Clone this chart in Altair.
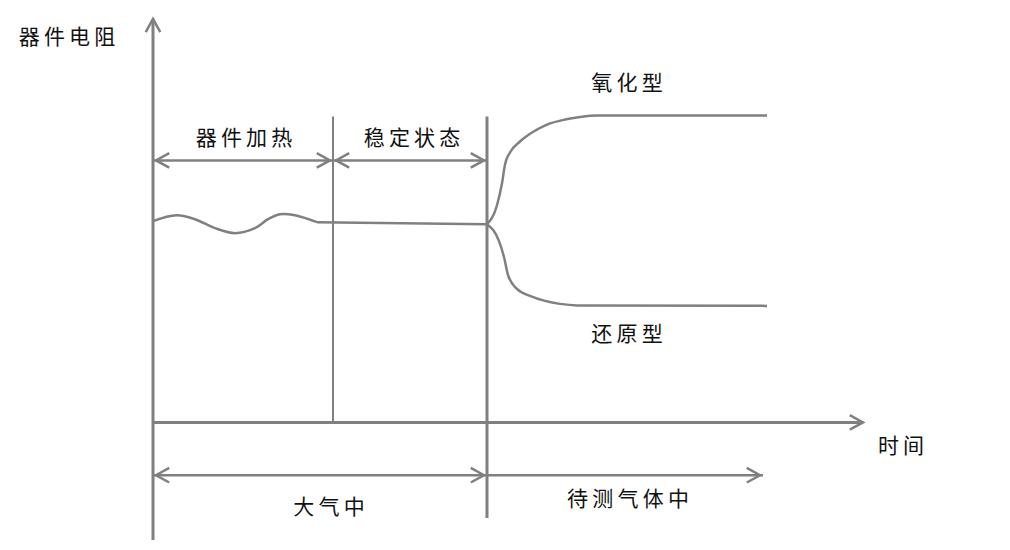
import altair as alt
import pandas as pd

GRAY = "#808080"
FONT = "Noto Sans CJK SC"
SP = "\u2009"

# ---- data (time t, resistance R; origin where the two axes cross) ----
# resistance curve in air: heating (wavy) and steady state
wave_t = [0, 1.2, 2.4, 4.2, 6.2, 8.2, 10.2, 11.5, 12.7, 14.2, 16.4]
wave_R = [20.2, 20.6, 20.8, 20.4, 19.5, 19.0, 19.5, 20.4, 20.9, 20.8, 20.1]
steady_t = [16.4, 33.4]
steady_R = [20.1, 19.9]
# response in the test gas
ox_t = [33.4, 34.4, 34.9, 35.2, 35.7, 36.7, 37.9, 39.4, 41.2, 42.7, 44.4, 61.4]
ox_R = [19.9, 21.8, 24.0, 25.9, 27.1, 28.2, 29.1, 29.9, 30.4, 30.65, 30.8, 30.8]
red_t = [33.4, 34.6, 35.1, 35.5, 36.4, 37.7, 39.2, 40.7, 42.4, 61.4]
red_R = [19.9, 18.2, 16.6, 14.8, 13.4, 12.7, 12.2, 11.9, 11.75, 11.7]

# axes (with arrow tips)
yaxis_R = [-11.8, 40.5]
xaxis_t = [0, 71.0]

# phase dividers: time, bottom R, top R, stroke
div_t = [18.0, 33.4]
div_R1 = [0.0, -9.6]
div_R2 = [30.7, 30.7]
div_w = [2.0, 3.0]

# interval arrows: start, end, level, left head, right head
span_t1 = [0.0, 18.0, 0.0, 33.4]
span_t2 = [18.0, 33.4, 33.4, 61.0]
span_R = [26.3, 26.3, -5.3, -5.3]
span_lh = [True, True, True, False]
span_rh = [True, True, True, True]

# labels
lab_text = ["器件电阻", "器件加热", "稳定状态", "氧化型", "还原型", "时间", "大气中", "待测气体中"]
lab_t = [-8.6, 9.1, 25.9, 47.4, 47.4, 74.8, 17.6, 47.5]
lab_R = [38.6, 28.5, 28.5, 34.0, 8.8, -2.5, -8.6, -7.8]

# ---- tables ----
curves = []
for name, ts, rs in [("ox", ox_t, ox_R), ("red", red_t, red_R)]:
    for i, (t, r) in enumerate(zip(ts, rs)):
        curves.append({"s": name, "i": i, "t": t, "R": r})
curves = pd.DataFrame(curves)
wave = pd.DataFrame({"i": list(range(len(wave_t))), "t": wave_t, "R": wave_R})
steady = pd.DataFrame({"i": [0, 1], "t": steady_t, "R": steady_R})

rules = []
rules.append({"t": 0, "t2": 0, "R": yaxis_R[0], "R2": yaxis_R[1], "w": 3.0})
rules.append({"t": xaxis_t[0], "t2": xaxis_t[1], "R": 0, "R2": 0, "w": 3.0})
for t, r1, r2, w in zip(div_t, div_R1, div_R2, div_w):
    rules.append({"t": t, "t2": t, "R": r1, "R2": r2, "w": w})
for a, b, r in zip(span_t1, span_t2, span_R):
    rules.append({"t": a, "t2": b, "R": r, "R2": r, "w": 2.5})
rules = pd.DataFrame(rules)

heads = [{"t": 0, "R": yaxis_R[1], "ang": 270}, {"t": xaxis_t[1], "R": 0, "ang": 0}]
for a, b, r, lh, rh in zip(span_t1, span_t2, span_R, span_lh, span_rh):
    if lh:
        heads.append({"t": a + 0.3, "R": r, "ang": 180})
    if rh:
        heads.append({"t": b - 0.3, "R": r, "ang": 0})
heads = pd.DataFrame(heads)

labels = pd.DataFrame({"txt": [SP.join(list(s)) for s in lab_text], "t": lab_t, "R": lab_R})

# ---- chart ----
xs = alt.Scale(domain=[-14.5, 84.9], nice=False, zero=False)
ys = alt.Scale(domain=[-11.8, 41.6], nice=False, zero=False)
X = alt.X("t:Q", scale=xs, axis=None)
Y = alt.Y("R:Q", scale=ys, axis=None)

rule_layer = alt.Chart(rules).mark_rule(color=GRAY).encode(
    x=X, x2="t2:Q", y=Y, y2="R2:Q",
    strokeWidth=alt.StrokeWidth("w:Q", scale=None),
)

wave_layer = alt.Chart(wave).mark_line(
    color=GRAY, strokeWidth=2.5, interpolate="catmull-rom"
).encode(x=X, y=Y, order="i:Q")

curve_layer = alt.Chart(curves).mark_line(
    color=GRAY, strokeWidth=2.5, interpolate="monotone"
).encode(x=X, y=Y, detail="s:N", order="i:Q")

steady_layer = alt.Chart(steady).mark_line(color=GRAY, strokeWidth=2.5).encode(
    x=X, y=Y, order="i:Q"
)

head_layer = alt.Chart(heads).mark_point(
    shape="M -1 -0.55 L 0 0 L -1 0.55", filled=False, color=GRAY,
    strokeWidth=2.5, size=700, opacity=1,
).encode(x=X, y=Y, angle=alt.Angle("ang:Q", scale=None))

text_layer = alt.Chart(labels).mark_text(
    font=FONT, fontSize=21, color="#111111", align="center", baseline="middle"
).encode(x=X, y=Y, text="txt:N")

chart = alt.layer(
    rule_layer, wave_layer, curve_layer, steady_layer, head_layer, text_layer
).properties(
    width=994, height=534, padding=0,
    autosize=alt.AutoSizeParams(type="fit", contains="padding"),
    background="white",
).configure_view(stroke=None)

chart.save("out.html", embed_options={"renderer": "svg", "actions": False})
